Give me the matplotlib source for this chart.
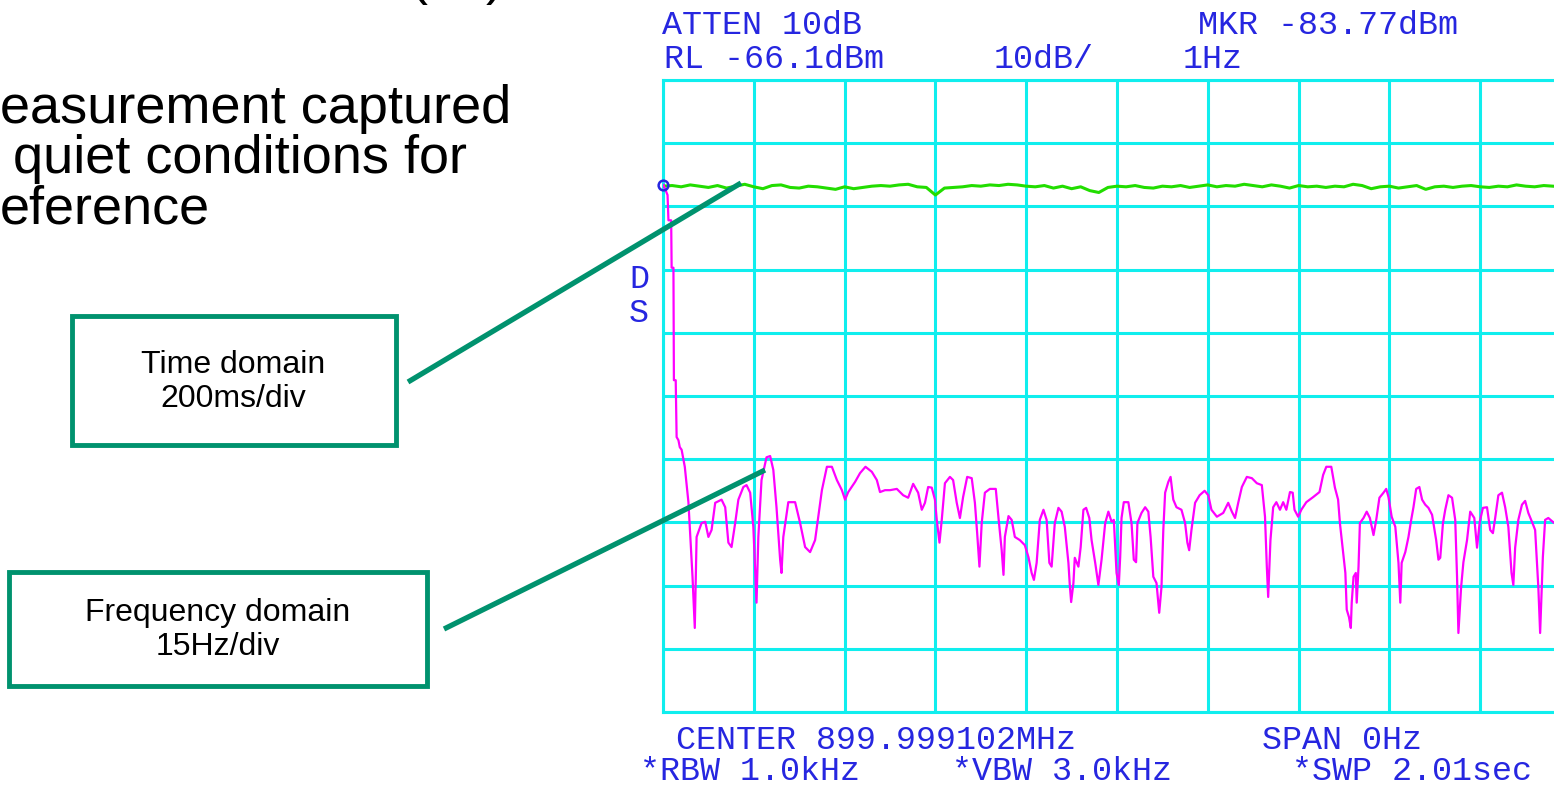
import numpy as np
import matplotlib
matplotlib.use("Agg")
import matplotlib.pyplot as plt
from matplotlib.patches import Rectangle

# spectrum analyzer settings (zero span, time domain)
ref_level = -66.1      # dBm at top graticule
db_per_div = 10
ms_per_div = 200
n_div = 10
marker_level = -82.7

# green trace: carrier level, quiet conditions (ms, dBm)
green_t = list(range(0, 2001, 20))
green_db = [
    -82.9, -82.8, -83.0, -82.7, -82.9, -83.1, -82.8, -83.2, -82.9, -82.6,
    -83.0, -83.3, -82.8, -82.7, -83.1, -83.2, -82.9, -83.0, -83.2, -83.4,
    -83.0, -83.3, -83.1, -82.9, -82.8, -82.9, -82.7, -82.6, -83.0, -83.1,
    -84.3, -83.2, -83.1, -83.0, -82.8, -82.9, -82.7, -82.8, -82.6, -82.7,
    -82.9, -83.0, -82.8, -83.2, -82.9, -83.3, -83.0, -83.6, -83.9, -83.1,
    -82.9, -83.0, -82.8, -83.1, -83.2, -82.9, -83.0, -82.8, -83.1, -82.9,
    -82.7, -83.0, -82.8, -82.9, -82.6, -82.8, -83.0, -82.7, -82.9, -83.2,
    -82.8, -83.0, -82.9, -83.1, -82.9, -83.0, -82.6, -82.8, -83.3, -83.0,
    -82.9, -83.2, -83.0, -82.8, -83.4, -83.0, -82.9, -83.1, -82.9, -82.8,
    -83.0, -83.1, -82.9, -83.0, -82.7, -82.9, -83.0, -82.8, -82.9, -83.0,
    -82.9,
]

# magenta trace: frequency domain noise (ms, dBm)
pink_t = [
    1, 10, 12, 18, 19, 23, 24, 28, 30, 34, 37, 41,
    48, 56, 59, 65, 70, 74, 85, 93, 100, 107, 115, 129,
    137, 144, 151, 159, 166, 177, 184, 192, 199, 206, 210, 217,
    228, 236, 243, 250, 258, 261, 265, 276, 291, 302, 313, 324,
    335, 342, 350, 361, 372, 383, 394, 401, 408, 423, 434, 446,
    460, 471, 478, 489, 500, 515, 529, 540, 551, 562, 570, 577,
    584, 592, 599, 603, 609, 614, 621, 632, 639, 647, 654, 661,
    670, 680, 687, 692, 697, 702, 709, 720, 733, 739, 746, 750,
    753, 761, 768, 775, 786, 797, 805, 812, 817, 823, 830, 838,
    845, 851, 856, 863, 871, 878, 885, 893, 896, 899, 904, 907,
    915, 920, 926, 932, 939, 944, 952, 959, 966, 974, 981, 988,
    993, 999, 1004, 1007, 1010, 1015, 1025, 1032, 1037, 1042, 1045, 1054,
    1062, 1069, 1074, 1080, 1087, 1093, 1098, 1102, 1106, 1113, 1118, 1124,
    1131, 1142, 1150, 1155, 1159, 1164, 1172, 1182, 1193, 1201, 1208, 1220,
    1234, 1245, 1253, 1260, 1267, 1275, 1286, 1297, 1308, 1319, 1326, 1330,
    1333, 1338, 1344, 1351, 1359, 1366, 1373, 1381, 1387, 1391, 1399, 1406,
    1417, 1432, 1446, 1454, 1461, 1472, 1480, 1487, 1491, 1498, 1503, 1506,
    1511, 1515, 1517, 1521, 1526, 1528, 1532, 1535, 1543, 1550, 1557, 1565,
    1571, 1578, 1587, 1593, 1598, 1605, 1613, 1620, 1624, 1627, 1635, 1642,
    1648, 1653, 1659, 1666, 1672, 1679, 1686, 1694, 1703, 1708, 1712, 1718,
    1723, 1730, 1738, 1745, 1749, 1752, 1758, 1763, 1771, 1778, 1787, 1793,
    1799, 1806, 1815, 1822, 1828, 1833, 1840, 1848, 1855, 1862, 1869, 1873,
    1877, 1884, 1892, 1899, 1906, 1914, 1921, 1928, 1932, 1938, 1943, 1950,
    1963, 1980,
]
pink_db = [
    -82.7, -84.3, -88.3, -88.3, -95.8, -95.8, -113.6, -113.6, -122.6, -123.1, -124.2, -124.6,
    -127.3, -132.9, -136.8, -144.7, -152.8, -138.4, -136.2, -136.0, -138.4, -137.3, -133.0, -132.5,
    -133.7, -139.3, -140.0, -136.2, -132.5, -130.5, -130.2, -131.4, -136.8, -148.8, -138.4, -129.4,
    -125.8, -125.6, -127.8, -133.7, -142.0, -144.1, -138.4, -132.9, -132.9, -136.2, -140.0, -140.8,
    -138.9, -135.2, -131.0, -127.3, -127.3, -129.4, -131.0, -132.5, -131.3, -129.7, -128.3, -127.3,
    -128.1, -129.4, -131.3, -131.0, -131.0, -130.8, -131.8, -132.2, -130.0, -131.4, -134.1, -133.0,
    -130.5, -130.6, -132.5, -135.7, -139.3, -135.7, -129.9, -128.9, -129.4, -133.0, -135.4, -132.1,
    -128.9, -129.1, -133.0, -137.8, -143.1, -136.2, -131.4, -130.8, -130.8, -135.4, -140.5, -144.4,
    -138.4, -135.1, -135.7, -138.4, -138.9, -139.7, -141.6, -144.1, -145.2, -142.5, -135.7, -134.1,
    -135.7, -142.5, -143.1, -136.2, -133.8, -134.4, -136.8, -142.5, -146.0, -148.7, -145.7, -141.7,
    -143.1, -140.0, -134.1, -133.8, -135.4, -138.9, -142.5, -146.0, -142.0, -136.2, -134.4, -136.0,
    -135.7, -144.1, -146.0, -141.6, -135.4, -132.9, -132.9, -136.2, -142.0, -142.4, -136.2, -134.6,
    -133.7, -134.4, -138.4, -144.7, -145.7, -150.4, -146.3, -137.3, -131.4, -129.7, -128.9, -132.5,
    -133.7, -134.1, -136.2, -139.3, -140.5, -137.3, -133.0, -131.8, -131.1, -131.8, -134.1, -135.2,
    -134.6, -133.0, -134.4, -135.4, -133.0, -130.5, -128.9, -129.1, -129.9, -130.2, -135.2, -143.1,
    -147.9, -138.9, -133.7, -132.9, -134.1, -132.9, -134.1, -131.3, -131.4, -134.1, -135.2, -134.1,
    -132.9, -132.1, -131.3, -128.6, -127.3, -127.3, -130.6, -132.5, -136.2, -140.9, -144.1, -149.9,
    -151.1, -152.8, -148.8, -144.7, -144.1, -148.8, -143.1, -136.2, -135.4, -134.4, -135.4, -138.1,
    -135.7, -132.2, -131.4, -130.8, -132.1, -135.2, -136.8, -142.5, -148.8, -142.5, -140.8, -138.4,
    -135.7, -133.7, -130.8, -130.5, -132.5, -133.3, -133.8, -134.9, -138.9, -142.0, -141.7, -136.2,
    -134.1, -131.8, -132.2, -135.7, -144.7, -153.6, -146.3, -142.4, -138.9, -134.4, -135.4, -140.1,
    -136.0, -133.8, -133.7, -137.3, -137.8, -135.4, -131.8, -131.4, -133.7, -136.8, -144.1, -146.0,
    -140.1, -135.7, -133.3, -132.7, -134.6, -136.0, -137.3, -146.3, -153.6, -141.6, -135.7, -135.4,
    -136.2, -136.0,
]
assert len(pink_t) == len(pink_db) and len(green_t) == len(green_db)

# screen annotation text
top_left = ["ATTEN 10dB", "RL -66.1dBm"]
top_mid = "10dB/"
top_right = ["MKR -83.77dBm", "1Hz"]
bottom_row1 = ["CENTER 899.999102MHz", "SPAN 0Hz"]
bottom_row2 = ["*RBW 1.0kHz", "*VBW 3.0kHz", "*SWP 2.01sec"]
slide_lines = ["easurement captured", "quiet conditions for", "eference"]
box_labels = ["Time domain\n200ms/div", "Frequency domain\n15Hz/div"]

CYAN = "#10eeee"
GREEN = "#22dd00"
PINK = "#ff00ff"
BLUE = "#2626e0"
TEAL = "#00926e"

W, H = 1554, 791
fig = plt.figure(figsize=(W / 100, H / 100), dpi=100)
fig.patch.set_facecolor("white")

# graticule extends a little past the right edge of the picture
ax = fig.add_axes([663 / W, 1 - 712 / H, 908 / W, 632 / H])
ax.set_xlim(0, ms_per_div * n_div)
ax.set_ylim(ref_level - db_per_div * n_div, ref_level)
ax.set_xticks(np.arange(0, ms_per_div * n_div + 1, ms_per_div))
ax.set_yticks(ref_level - db_per_div * np.arange(n_div + 1))
ax.tick_params(length=0, labelbottom=False, labelleft=False)
ax.grid(True, color=CYAN, lw=2.2)
for s in ax.spines.values():
    s.set_color(CYAN)
    s.set_linewidth(2.2)

ax.plot(green_t, green_db, color=GREEN, lw=2.2, zorder=3)
ax.plot(pink_t, pink_db, color=PINK, lw=1.6, zorder=4)
ax.plot([0], [marker_level], "o", mfc="none", mec=BLUE, ms=7, mew=1.8,
        clip_on=False, zorder=5)

# overlay in pixel coordinates for text and callouts
ov = fig.add_axes([0, 0, 1, 1], zorder=5)
ov.set_xlim(0, W)
ov.set_ylim(H, 0)
ov.axis("off")
ov.patch.set_alpha(0)

mono = dict(family="Liberation Mono", fontsize=24, color=BLUE, va="baseline", ha="center")
ov.text(762, 34, top_left[0], **mono)
ov.text(774, 68, top_left[1], **mono)
ov.text(1044, 68, top_mid, **mono)
ov.text(1328, 34, top_right[0], **mono)
ov.text(1213, 68, top_right[1], **mono)
ov.text(876, 749, bottom_row1[0], **mono)
ov.text(1342, 749, bottom_row1[1], **mono)
ov.text(750, 780, bottom_row2[0], **mono)
ov.text(1062, 780, bottom_row2[1], **mono)
ov.text(1412, 780, bottom_row2[2], **mono)
ov.text(639, 288, "D", **mono)
ov.text(639, 322, "S", **mono)

sans = dict(family="Liberation Sans", fontsize=39, color="black", va="baseline", ha="left")
ov.text(0, 123, slide_lines[0], **sans)
ov.text(13, 173, slide_lines[1], **sans)
ov.text(0, 223, slide_lines[2], **sans)
ov.text(410, -6, "(", **sans)
ov.text(486, -6, ")", **sans)

# callout boxes
ov.add_patch(Rectangle((72, 316), 324, 129, fc="white", ec=TEAL, lw=3.5))
ov.add_patch(Rectangle((9, 572), 418, 114, fc="white", ec=TEAL, lw=3.5))
ov.text(233, 382, box_labels[0], family="Liberation Sans", fontsize=23,
        ha="center", va="center", linespacing=1.2)
ov.text(218, 630, box_labels[1], family="Liberation Sans", fontsize=23,
        ha="center", va="center", linespacing=1.2)
ov.plot([408, 741], [382, 183], color=TEAL, lw=3.8, solid_capstyle="butt")
ov.plot([444, 765], [629, 470], color=TEAL, lw=3.8, solid_capstyle="butt")

fig.savefig("out.png", dpi=100)
